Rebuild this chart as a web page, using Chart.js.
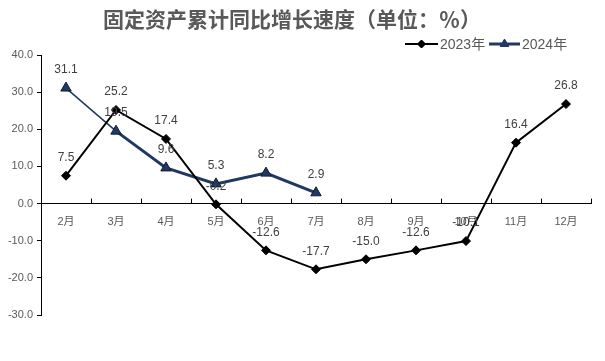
<!DOCTYPE html>
<html>
<head>
<meta charset="utf-8">
<script src="https://cdn.jsdelivr.net/npm/chart.js@4.4.1/dist/chart.umd.min.js"></script>
<style>
  html, body { margin: 0; padding: 0; background: #fff; }
</style>
</head>
<body>
<canvas id="growth-chart" width="605" height="361"></canvas>
<script>
// Months on the x axis
const months = ['2月', '3月', '4月', '5月', '6月', '7月', '8月', '9月', '10月', '11月', '12月'];

// Cumulative YoY growth of fixed assets investment (%)
const growth2023 = [7.5, 25.2, 17.4, -0.2, -12.6, -17.7, -15.0, -12.6, -10.1, 16.4, 26.8];
const growth2024 = [31.1, 19.5, 9.6, 5.3, 8.2, 2.9, null, null, null, null, null];

// Y axis range
const yMin = -30;
const yMax = 40;
const yStep = 10;

const seriesNames = ['2023年', '2024年'];

const TEXT_GRAY = '#595959';
const NAVY = '#1F3864';

// -----------------------------------------------
// Plugin: title, legend, value labels, x tick marks
// -----------------------------------------------
const decorations = {
    id: 'decorations',
    afterDatasetsDraw(chart) {
        const ctx = chart.ctx;
        const xScale = chart.scales.x;
        const yScale = chart.scales.y;
        ctx.save();

        // small tick marks pointing up from the zero line
        const zeroY = yScale.getPixelForValue(0);
        ctx.strokeStyle = '#000';
        ctx.lineWidth = 1;
        ctx.beginPath();
        for (let i = 0; i < months.length; i++) {
            let x;
            if (i < months.length - 1) {
                x = (xScale.getPixelForValue(i) + xScale.getPixelForValue(i + 1)) / 2;
            } else {
                x = xScale.right;
            }
            x = Math.round(x) + 0.5;
            ctx.moveTo(x, zeroY);
            ctx.lineTo(x, zeroY - 5);
        }
        ctx.stroke();

        // value labels above each point
        ctx.font = '12px "Liberation Sans", Arial, sans-serif';
        ctx.fillStyle = '#404040';
        ctx.textAlign = 'center';
        ctx.textBaseline = 'middle';
        chart.data.datasets.forEach((ds, di) => {
            const meta = chart.getDatasetMeta(di);
            meta.data.forEach((pt, i) => {
                const v = ds.data[i];
                if (v === null || v === undefined) return;
                ctx.fillText(v.toFixed(1), pt.x, pt.y - 18);
            });
        });
        ctx.restore();
    },
    afterDraw(chart) {
        const ctx = chart.ctx;
        ctx.save();

        // chart title
        ctx.font = 'bold 21px "Noto Sans CJK SC", sans-serif';
        ctx.fillStyle = TEXT_GRAY;
        ctx.textAlign = 'center';
        ctx.textBaseline = 'middle';
        ctx.fillText('固定资产累计同比增长速度（单位：％）', 292, 19);

        // legend
        const ly = 44;
        const entries = [
            { x0: 405, x1: 438, tx: 440, color: '#000', width: 2, style: 'rectRot', r: 4 },
            { x0: 489, x1: 520, tx: 522, color: NAVY, width: 3, style: 'triangle', r: 5 }
        ];
        ctx.font = '14px "Liberation Sans", "Noto Sans CJK SC", sans-serif';
        ctx.textAlign = 'left';
        entries.forEach((e, i) => {
            ctx.strokeStyle = e.color;
            ctx.lineWidth = e.width;
            ctx.beginPath();
            ctx.moveTo(e.x0, ly);
            ctx.lineTo(e.x1, ly);
            ctx.stroke();
            ctx.fillStyle = e.color;
            ctx.lineWidth = 1;
            Chart.helpers.drawPoint(ctx, { pointStyle: e.style, radius: e.r, borderWidth: 1 }, (e.x0 + e.x1) / 2, ly);
            ctx.fill();
            ctx.fillStyle = TEXT_GRAY;
            ctx.fillText(seriesNames[i], e.tx, ly + 1);
        });
        ctx.restore();
    }
};

// -----------------------------------------------
// Line chart
// -----------------------------------------------
const canvas = document.getElementById('growth-chart');

new Chart(canvas, {
    type: 'line',
    data: {
        labels: months,
        datasets: [
            {
                label: seriesNames[0],
                data: growth2023,
                borderColor: '#000',
                borderWidth: 2,
                pointStyle: 'rectRot',
                pointRadius: 4.5,
                pointBackgroundColor: '#000',
                pointBorderColor: '#000',
                pointBorderWidth: 1,
                tension: 0
            },
            {
                label: seriesNames[1],
                data: growth2024,
                borderColor: NAVY,
                borderWidth: 3,
                // first segment is drawn thinner in the original
                segment: {
                    borderWidth: c => c.p0DataIndex === 0 ? 1.5 : 3
                },
                pointStyle: 'triangle',
                pointRadius: 6,
                pointBackgroundColor: NAVY,
                pointBorderColor: '#0f1c33',
                pointBorderWidth: 1,
                tension: 0,
                spanGaps: false
            }
        ]
    },
    options: {
        responsive: false,
        animation: false,
        layout: {
            padding: { top: 55, bottom: 46, left: 0, right: 14 }
        },
        plugins: {
            legend: { display: false },
            title: { display: false },
            tooltip: { enabled: false }
        },
        scales: {
            x: {
                type: 'category',
                offset: true,
                position: { y: 0 },
                grid: { display: false, drawTicks: false },
                border: { display: true, color: '#000', width: 1 },
                ticks: {
                    color: TEXT_GRAY,
                    font: { size: 11, family: '"Liberation Sans", "Noto Sans CJK SC", sans-serif' },
                    padding: 12,
                    maxRotation: 0,
                    autoSkip: false
                },
                afterFit: s => { s.height = 0; }
            },
            y: {
                min: yMin,
                max: yMax,
                ticks: {
                    stepSize: yStep,
                    color: TEXT_GRAY,
                    font: { size: 11, family: '"Liberation Sans", Arial, sans-serif' },
                    padding: 4,
                    callback: v => v.toFixed(1)
                },
                grid: { drawOnChartArea: false, tickLength: 4, color: '#000' },
                border: { display: true, color: '#000', width: 1 },
                afterFit: s => { s.width = 41; }
            }
        }
    },
    plugins: [decorations]
});
</script>
</body>
</html>
